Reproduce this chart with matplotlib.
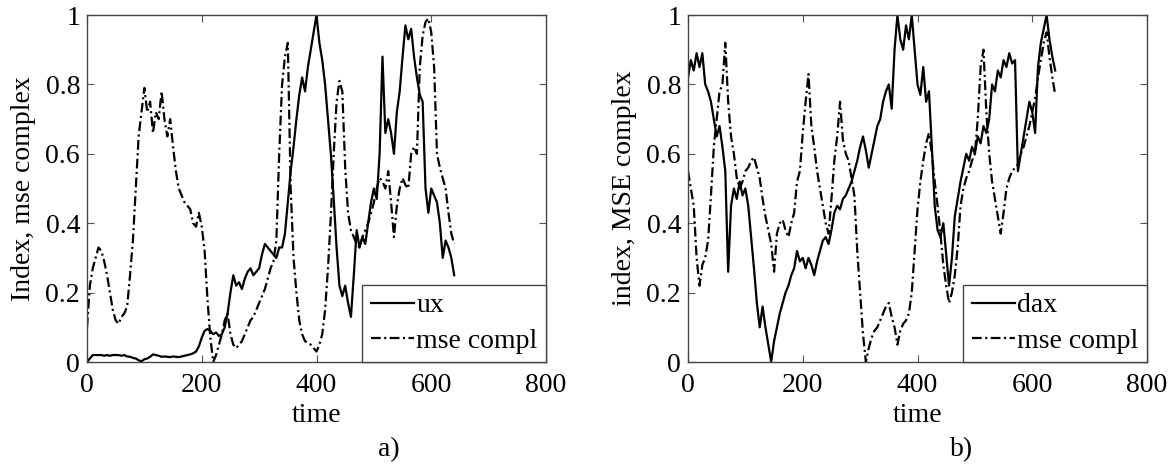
import matplotlib
matplotlib.use("Agg")
import matplotlib.pyplot as plt
import numpy as np

# -------------------------------
# Data (every 5 time steps)
# -------------------------------
time = list(range(0, 645, 5))

ux = [0.00, 0.01, 0.02, 0.02, 0.02, 0.02, 0.018, 0.02, 0.018, 0.02,
      0.02, 0.02, 0.018, 0.02, 0.016, 0.015, 0.012, 0.01, 0.005, 0.002,
      0.008, 0.01, 0.015, 0.022, 0.02, 0.018, 0.015, 0.016, 0.015, 0.014,
      0.016, 0.015, 0.014, 0.016, 0.018, 0.02, 0.022, 0.025, 0.03, 0.045,
      0.07, 0.09, 0.095, 0.09, 0.08, 0.085, 0.075, 0.08, 0.10, 0.14,
      0.20, 0.25, 0.22, 0.23, 0.21, 0.24, 0.26, 0.27, 0.25, 0.26,
      0.27, 0.31, 0.34, 0.33, 0.32, 0.31, 0.30, 0.33, 0.33, 0.37,
      0.46, 0.55, 0.62, 0.70, 0.77, 0.82, 0.78, 0.85, 0.90, 0.95,
      1.00, 0.92, 0.87, 0.80, 0.70, 0.60, 0.47, 0.33, 0.22, 0.19,
      0.22, 0.17, 0.13, 0.25, 0.38, 0.33, 0.36, 0.34, 0.40, 0.46,
      0.50, 0.47, 0.60, 0.88, 0.66, 0.70, 0.66, 0.60, 0.72, 0.78,
      0.88, 0.97, 0.93, 0.96, 0.88, 0.82, 0.77, 0.75, 0.50, 0.43,
      0.50, 0.48, 0.46, 0.40, 0.30, 0.35, 0.33, 0.30, 0.25]

mse_a = [0.10, 0.22, 0.27, 0.30, 0.33, 0.32, 0.29, 0.25, 0.20, 0.15,
         0.12, 0.11, 0.13, 0.14, 0.16, 0.25, 0.35, 0.50, 0.65, 0.72,
         0.79, 0.72, 0.75, 0.66, 0.72, 0.70, 0.78, 0.70, 0.65, 0.70,
         0.62, 0.55, 0.50, 0.48, 0.46, 0.45, 0.44, 0.40, 0.39, 0.43,
         0.39, 0.32, 0.18, 0.07, 0.00, 0.02, 0.05, 0.08, 0.12, 0.14,
         0.08, 0.05, 0.04, 0.05, 0.06, 0.08, 0.10, 0.12, 0.13, 0.15,
         0.17, 0.19, 0.21, 0.24, 0.27, 0.29, 0.35, 0.60, 0.80, 0.88,
         0.92, 0.50, 0.30, 0.20, 0.12, 0.08, 0.06, 0.055, 0.05, 0.04,
         0.03, 0.05, 0.08, 0.15, 0.27, 0.42, 0.60, 0.75, 0.81, 0.78,
         0.56, 0.43, 0.38, 0.36, 0.34, 0.33, 0.36, 0.38, 0.40, 0.43,
         0.46, 0.50, 0.53, 0.52, 0.50, 0.55, 0.46, 0.36, 0.45, 0.50,
         0.53, 0.51, 0.50, 0.60, 0.62, 0.60, 0.85, 0.94, 0.98, 0.99,
         0.95, 0.85, 0.60, 0.56, 0.53, 0.50, 0.43, 0.37, 0.34]

dax = [0.82, 0.87, 0.84, 0.89, 0.85, 0.89, 0.80, 0.78, 0.75, 0.70,
       0.65, 0.68, 0.62, 0.55, 0.26, 0.45, 0.50, 0.47, 0.52, 0.48,
       0.50, 0.45, 0.36, 0.27, 0.17, 0.10, 0.16, 0.10, 0.05, 0.00,
       0.06, 0.10, 0.14, 0.17, 0.20, 0.22, 0.25, 0.27, 0.32, 0.29,
       0.30, 0.27, 0.30, 0.28, 0.25, 0.29, 0.32, 0.35, 0.36, 0.34,
       0.38, 0.43, 0.45, 0.44, 0.47, 0.48, 0.50, 0.52, 0.55, 0.58,
       0.62, 0.65, 0.61, 0.56, 0.60, 0.64, 0.68, 0.70, 0.75, 0.78,
       0.80, 0.73, 0.90, 1.00, 0.93, 0.90, 0.97, 0.93, 1.00, 0.90,
       0.80, 0.77, 0.85, 0.75, 0.78, 0.62, 0.45, 0.38, 0.36, 0.40,
       0.31, 0.22, 0.30, 0.42, 0.47, 0.52, 0.56, 0.60, 0.58, 0.62,
       0.60, 0.65, 0.63, 0.68, 0.66, 0.70, 0.80, 0.78, 0.84, 0.82,
       0.87, 0.85, 0.89, 0.86, 0.87, 0.55, 0.60, 0.65, 0.70, 0.75,
       0.72, 0.66, 0.85, 0.92, 0.96, 1.00, 0.93, 0.88, 0.84]

mse_b = [0.55, 0.50, 0.45, 0.30, 0.22, 0.28, 0.30, 0.35, 0.48, 0.62,
         0.70, 0.78, 0.80, 0.92, 0.75, 0.65, 0.60, 0.53, 0.50, 0.52,
         0.55, 0.56, 0.58, 0.59, 0.56, 0.53, 0.47, 0.42, 0.38, 0.34,
         0.26, 0.37, 0.40, 0.41, 0.38, 0.36, 0.40, 0.43, 0.52, 0.55,
         0.66, 0.75, 0.83, 0.68, 0.62, 0.55, 0.50, 0.45, 0.40, 0.37,
         0.47, 0.58, 0.65, 0.75, 0.64, 0.60, 0.58, 0.53, 0.48, 0.32,
         0.20, 0.08, 0.00, 0.04, 0.07, 0.09, 0.10, 0.12, 0.14, 0.16,
         0.17, 0.13, 0.10, 0.05, 0.09, 0.11, 0.12, 0.14, 0.20, 0.32,
         0.44, 0.52, 0.58, 0.63, 0.66, 0.60, 0.52, 0.45, 0.37, 0.28,
         0.22, 0.17, 0.20, 0.25, 0.33, 0.45, 0.50, 0.53, 0.55, 0.58,
         0.60, 0.70, 0.85, 0.90, 0.72, 0.60, 0.52, 0.47, 0.42, 0.37,
         0.43, 0.50, 0.53, 0.55, 0.56, 0.57, 0.60, 0.62, 0.65, 0.68,
         0.72, 0.76, 0.82, 0.87, 0.92, 0.95, 0.88, 0.82, 0.77]

panels = [
    ("ux", ux, mse_a, "Index, mse complex", "a)"),
    ("dax", dax, mse_b, "index, MSE complex", "b)"),
]
xticks = [0, 200, 400, 600, 800]
yticks = [0, 0.2, 0.4, 0.6, 0.8, 1]
yticklabels = ["0", "0.2", "0.4", "0.6", "0.8", "1"]

# -------------------------------
# Style
# -------------------------------
plt.rcParams["font.family"] = ["Liberation Serif", "DejaVu Serif"]
plt.rcParams["font.size"] = 20
plt.rcParams["lines.scale_dashes"] = False

fig = plt.figure(figsize=(11.73, 4.66), dpi=100)
lefts = [87 / 1173, 688 / 1173]
tag_x = [389 / 1173, 962 / 1173]

for i, (name, idx, mse, ylab, tag) in enumerate(panels):
    ax = fig.add_axes([lefts[i], 1 - 362 / 466, 459 / 1173, 347 / 466])
    ax.plot(time, idx, color="black", lw=1.6, label=name)
    ax.plot(time, mse, color="black", lw=1.6, linestyle=(0, (7, 2.5, 1.5, 2.5)),
            label="mse compl")
    ax.set_xlim(0, 800)
    ax.set_ylim(0, 1)
    ax.set_xticks(xticks)
    ax.set_yticks(yticks)
    ax.set_yticklabels(yticklabels)
    ax.tick_params(direction="in", top=True, right=True, length=5,
                   width=0.8, color="#555555")
    ax.tick_params(axis="x", pad=8)
    ax.tick_params(axis="y", pad=5)
    for s in ax.spines.values():
        s.set_color("#444444")
        s.set_linewidth(1.0)
    ax.set_xlabel("time")
    ax.xaxis.set_label_coords(0.5, -0.118)
    ax.set_ylabel(ylab)
    ax.yaxis.set_label_coords(-0.112, 0.5)
    leg = ax.legend(loc="lower right", borderaxespad=0, fancybox=False,
                    framealpha=1, edgecolor="#444444", handlelength=1.55,
                    handletextpad=0.1, labelspacing=0.35, borderpad=0.3)
    leg.get_frame().set_linewidth(1.0)
    fig.text(tag_x[i], 1 - 450 / 466, tag, ha="center", va="center")

fig.savefig("out.png", dpi=100)
plt.close(fig)
